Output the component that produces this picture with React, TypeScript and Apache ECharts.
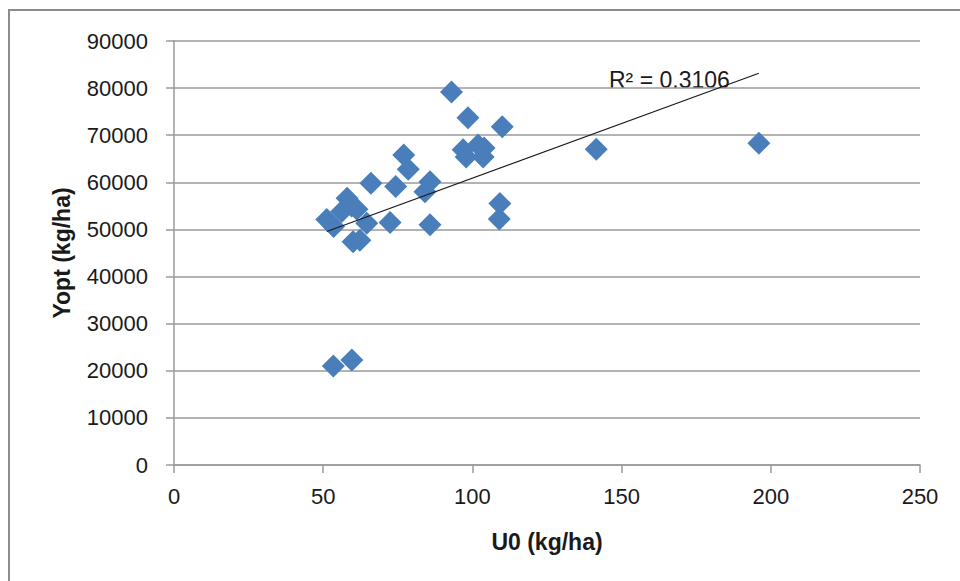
import React, { useEffect, useRef } from "react";
import * as echarts from "echarts";

// U0 (kg/ha) values
const u0Values: number[] = [
  93, 98.5, 110, 196, 141.5, 96.9, 97.9, 101.9, 103.9, 103.6, 77, 78.5, 66, 74.3,
  85.8, 84.1, 109.2, 109, 85.8, 72.4, 51.2, 53.5, 58, 56.2, 59.5, 61.3, 64.6, 60,
  62.3, 53.4, 59.6,
];
// Yopt (kg/ha) values
const yoptValues: number[] = [
  79200, 73700, 71800, 68300, 67000, 66900, 65400, 67900, 67300, 65400, 65800,
  62800, 59800, 59100, 60100, 58000, 55500, 52200, 51000, 51500, 52100, 50600,
  56600, 53800, 55000, 54300, 51300, 47400, 47700, 21000, 22300,
];
// Linear trend (as shown in the reference)
const trendSlope = 232;
const trendIntercept = 37690;
const rSquaredText = "R² = 0.3106";

const xTicks = [0, 50, 100, 150, 200, 250];
const yTicks = [0, 10000, 20000, 30000, 40000, 50000, 60000, 70000, 80000, 90000];

const xTitle = "U0 (kg/ha)";
const yTitle = "Yopt (kg/ha)";

export default function App() {
  const ref = useRef<HTMLDivElement>(null);
  useEffect(() => {
    if (!ref.current) return;
    const chart = echarts.init(ref.current, null, { renderer: "svg" });
    const points = u0Values.map((x, i) => [x, yoptValues[i]]);
    const xMin = Math.min(...u0Values);
    const xMax = Math.max(...u0Values);
    const trend = [
      [xMin, trendIntercept + trendSlope * xMin],
      [xMax, trendIntercept + trendSlope * xMax],
    ];
    const font = "'Liberation Sans', Arial, sans-serif";
    const gray = "#9a9a9a";
    chart.setOption({
      animation: false,
      backgroundColor: "#ffffff",
      grid: { left: 174, top: 41, right: 40, bottom: 116, containLabel: false },
      xAxis: {
        type: "value",
        min: xTicks[0],
        max: xTicks[xTicks.length - 1],
        interval: 50,
        axisLine: { show: true, onZero: false, lineStyle: { color: gray, width: 1.5 } },
        axisTick: { show: true, inside: false, length: 8, lineStyle: { color: gray, width: 1.5 } },
        splitLine: { show: false },
        axisLabel: {
          color: "#1a1a1a",
          fontSize: 22,
          fontFamily: font,
          margin: 20,
          formatter: (v: number) => String(v),
        },
      },
      yAxis: {
        type: "value",
        min: yTicks[0],
        max: yTicks[yTicks.length - 1],
        interval: 10000,
        axisLine: { show: true, lineStyle: { color: gray, width: 1.5 } },
        axisTick: { show: true, inside: false, length: 8, lineStyle: { color: gray, width: 1.5 } },
        splitLine: { show: true, lineStyle: { color: gray, width: 1.5 } },
        axisLabel: {
          color: "#1a1a1a",
          fontSize: 22,
          fontFamily: font,
          margin: 26,
          formatter: (v: number) => String(v),
        },
      },
      series: [
        {
          type: "scatter",
          data: points,
          symbol: "diamond",
          symbolSize: 23,
          itemStyle: { color: "#4A7EBB", opacity: 1 },
          z: 2,
        },
        {
          type: "line",
          data: trend,
          symbol: "none",
          lineStyle: { color: "#1a1a1a", width: 1.2 },
          z: 3,
        },
      ],
      graphic: [
        {
          type: "rect",
          shape: { x: 9, y: 10, width: 1200, height: 800 },
          style: { fill: "none", stroke: "#8c8c8c", lineWidth: 2 },
          silent: true,
        },
        {
          type: "text",
          x: 609,
          y: 80,
          style: {
            text: rSquaredText,
            fontSize: 23,
            fontFamily: font,
            fill: "#1a1a1a",
            verticalAlign: "middle",
          },
        },
        {
          type: "text",
          x: 547,
          y: 542,
          style: {
            text: xTitle,
            fontSize: 23,
            fontWeight: "bold",
            fontFamily: font,
            fill: "#1a1a1a",
            align: "center",
            verticalAlign: "middle",
          },
        },
        {
          type: "text",
          x: 62,
          y: 253,
          rotation: Math.PI / 2,
          style: {
            text: yTitle,
            fontSize: 23,
            fontWeight: "bold",
            fontFamily: font,
            fill: "#1a1a1a",
            align: "center",
            verticalAlign: "middle",
          },
        },
      ],
    });
    return () => chart.dispose();
  }, []);
  return (
    <div
      ref={ref}
      style={{ position: "fixed", left: 0, top: 0, width: 960, height: 581 }}
    />
  );
}
